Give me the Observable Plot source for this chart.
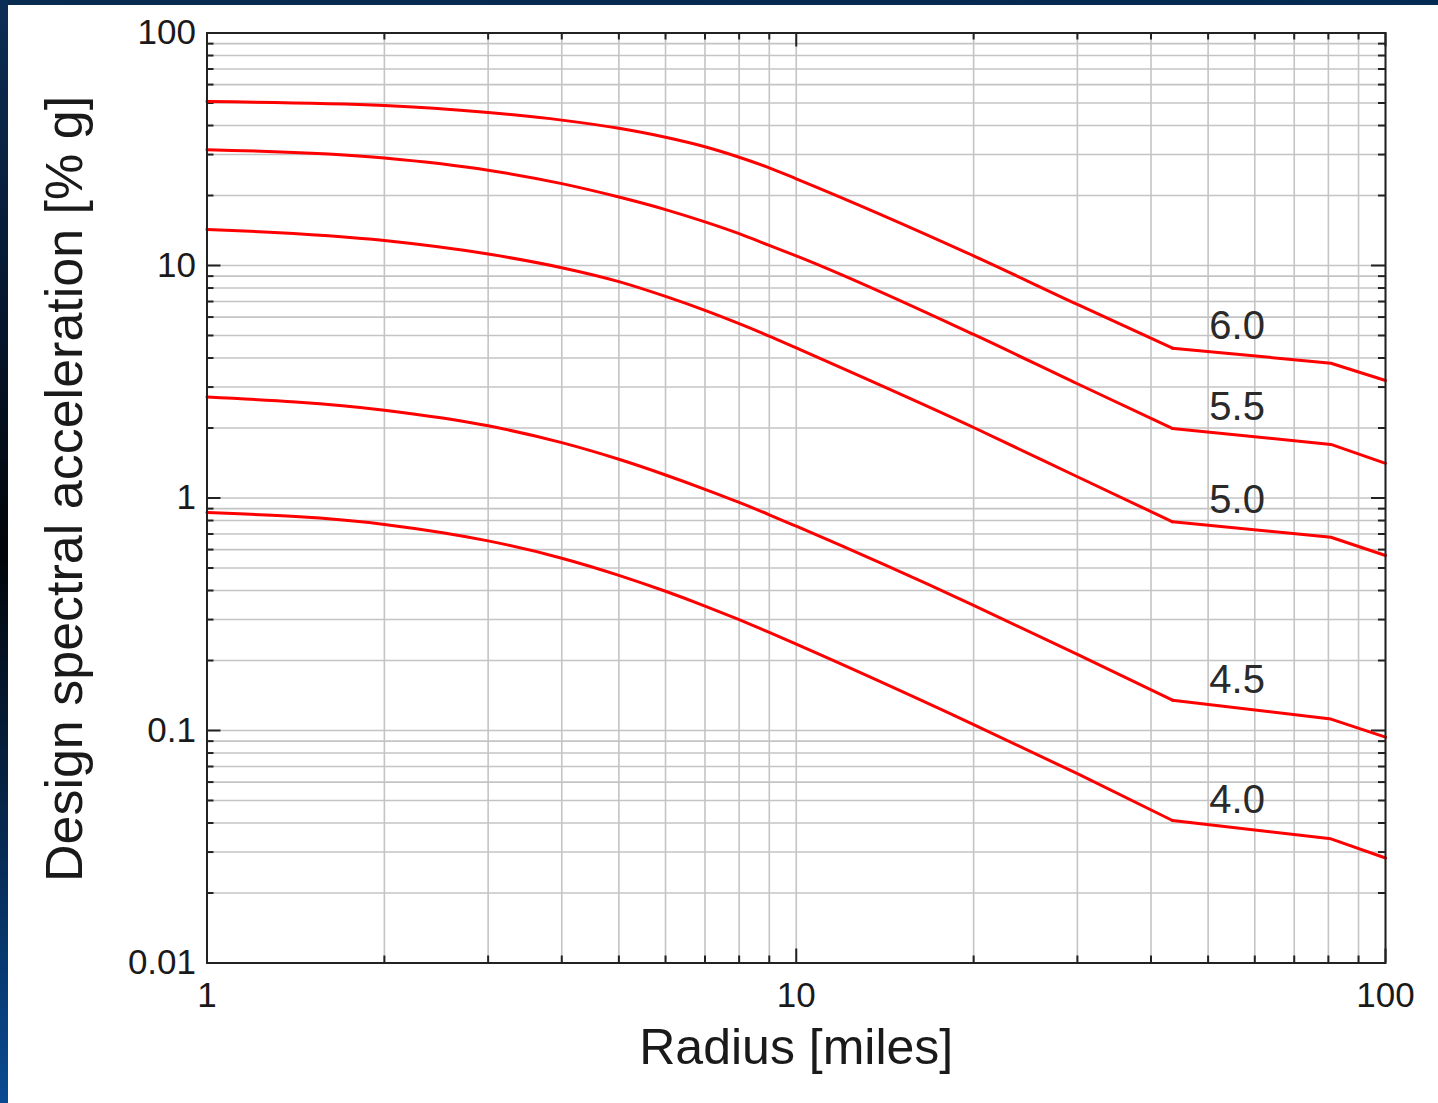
<!DOCTYPE html>
<html>
<head>
<meta charset="utf-8">
<script src="https://cdn.jsdelivr.net/npm/d3@7"></script>
<script src="https://cdn.jsdelivr.net/npm/@observablehq/plot@0.6"></script>
<style>
  html, body { margin: 0; padding: 0; background: #ffffff; width: 1438px; height: 1103px; overflow: hidden; }
  #wrap { position: relative; width: 1438px; height: 1103px; }
  #topband { position: absolute; left: 0; top: 0; width: 1438px; height: 5px;
    background: linear-gradient(to right, #0a2b50, #06294f 50%, #032a52); z-index: 2; }
  #leftband { position: absolute; left: 0; top: 0; width: 8px; height: 1103px;
    background: linear-gradient(to bottom, #0c2e56 0%, #061a33 25%, #020509 50%, #06284f 75%, #0a4a92 100%); z-index: 2; }
  #chart { position: absolute; left: 0; top: 0; }
</style>
</head>
<body>
<div id="wrap">
  <div id="topband"></div>
  <div id="leftband"></div>
  <div id="chart"></div>
</div>
<script>
// ---- data ----
const radius = [1, 2, 3, 4, 5, 6, 7, 8, 9, 10, 20, 30, 43.5, 80.8, 100];
const magnitudes = ["6.0", "5.5", "5.0", "4.5", "4.0"];
const accM60 = [50.7, 48.8, 45.5, 42.2, 38.9, 35.6, 32.4, 29.2, 26.3, 23.6, 11.0, 6.8, 4.41, 3.80, 3.20];
const accM55 = [31.5, 29.0, 25.7, 22.5, 19.7, 17.4, 15.4, 13.7, 12.2, 11.0, 5.05, 3.10, 1.99, 1.70, 1.41];
const accM50 = [14.3, 12.8, 11.2, 9.78, 8.52, 7.36, 6.41, 5.62, 4.97, 4.42, 2.01, 1.234, 0.79, 0.678, 0.566];
const accM45 = [2.72, 2.385, 2.044, 1.730, 1.467, 1.256, 1.090, 0.957, 0.847, 0.756, 0.3455, 0.2125, 0.135, 0.112, 0.0936];
const accM40 = [0.866, 0.770, 0.654, 0.551, 0.465, 0.397, 0.343, 0.2995, 0.264, 0.235, 0.106, 0.0652, 0.041, 0.0342, 0.0283];
const breakRadius = 43.5;   // first sharp break of every curve
const labelRadius = 56;

const xMajor = [1, 10, 100];
const yMajor = [0.01, 0.1, 1, 10, 100];
const xMinor = [2, 3, 4, 5, 6, 7, 8, 9, 20, 30, 40, 50, 60, 70, 80, 90];
const yMinor = [0.02, 0.03, 0.04, 0.05, 0.06, 0.07, 0.08, 0.09,
                0.2, 0.3, 0.4, 0.5, 0.6, 0.7, 0.8, 0.9,
                2, 3, 4, 5, 6, 7, 8, 9,
                20, 30, 40, 50, 60, 70, 80, 90];
const xTitle = "Radius [miles]";
const yTitle = "Design spectral acceleration [% g]";

// ---- build table ----
const seriesList = [accM60, accM55, accM50, accM45, accM40];
const rows = [];
seriesList.forEach((vals, i) => {
  vals.forEach((v, j) => rows.push({m: magnitudes[i], r: radius[j], a: v}));
});
const smoothRows = rows.filter(d => d.r <= breakRadius);
const tailRows = rows.filter(d => d.r >= breakRadius);
function interpLog(vals, x) {
  for (let j = 0; j < radius.length - 1; j++) {
    if (x >= radius[j] && x <= radius[j + 1]) {
      const t = (Math.log10(x) - Math.log10(radius[j])) / (Math.log10(radius[j + 1]) - Math.log10(radius[j]));
      return Math.pow(10, Math.log10(vals[j]) + t * (Math.log10(vals[j + 1]) - Math.log10(vals[j])));
    }
  }
  return vals[vals.length - 1];
}
const labels = seriesList.map((vals, i) => ({m: magnitudes[i], r: labelRadius, a: interpLog(vals, labelRadius)}));

const mL = 206.5, mR = 53, mT = 32.5, mB = 140.5;
const W = 1438, H = 1103;
const pw = W - mL - mR, ph = H - mT - mB;
const tickCol = "#222";

const chart = Plot.plot({
  width: W, height: H,
  marginLeft: mL, marginRight: mR, marginTop: mT, marginBottom: mB,
  x: {type: "log", domain: [1, 100], ticks: xMajor, tickSize: 0, tickPadding: 19, tickFormat: d => String(d), label: null},
  y: {type: "log", domain: [0.01, 100], ticks: yMajor, tickSize: 0, tickPadding: 11, tickFormat: d => String(d), label: null},
  style: {fontFamily: "'Liberation Sans', Arial, Helvetica, sans-serif", fontSize: "35px", color: "#1a1a1a", background: "transparent", overflow: "visible"},
  marks: [
    Plot.ruleX(xMinor.concat(xMajor), {stroke: "#c4c4c4", strokeWidth: 1.6}),
    Plot.ruleY(yMinor.concat(yMajor), {stroke: "#c4c4c4", strokeWidth: 1.6}),
    // inward minor ticks
    Plot.ruleX(xMinor, {insetTop: ph - 7, stroke: tickCol, strokeWidth: 2}),
    Plot.ruleX(xMinor, {insetBottom: ph - 7, stroke: tickCol, strokeWidth: 2}),
    Plot.ruleY(yMinor, {insetRight: pw - 7, stroke: tickCol, strokeWidth: 2}),
    Plot.ruleY(yMinor, {insetLeft: pw - 7, stroke: tickCol, strokeWidth: 2}),
    // inward major ticks
    Plot.ruleX(xMajor, {insetTop: ph - 14, stroke: tickCol, strokeWidth: 2}),
    Plot.ruleX(xMajor, {insetBottom: ph - 14, stroke: tickCol, strokeWidth: 2}),
    Plot.ruleY(yMajor, {insetRight: pw - 14, stroke: tickCol, strokeWidth: 2}),
    Plot.ruleY(yMajor, {insetLeft: pw - 14, stroke: tickCol, strokeWidth: 2}),
    Plot.line(smoothRows, {x: "r", y: "a", z: "m", stroke: "#ff0000", strokeWidth: 3, curve: "monotone-x", strokeLinecap: "round"}),
    Plot.line(tailRows, {x: "r", y: "a", z: "m", stroke: "#ff0000", strokeWidth: 3, strokeLinejoin: "round", strokeLinecap: "round"}),
    Plot.text(labels, {x: "r", y: "a", text: "m", dy: -28, fontSize: 40, fill: "#2a2a2a"}),
    Plot.frame({stroke: "#222", strokeWidth: 2}),
    Plot.text([xTitle], {frameAnchor: "bottom", lineAnchor: "middle", textAnchor: "middle", dy: 84.5, fontSize: 50, fill: "#1a1a1a"}),
    Plot.text([yTitle], {frameAnchor: "left", lineAnchor: "middle", textAnchor: "middle", rotate: -90, dx: -141.5, dy: -9, fontSize: 52, fill: "#1a1a1a"})
  ]
});
document.getElementById("chart").appendChild(chart);
</script>
</body>
</html>
